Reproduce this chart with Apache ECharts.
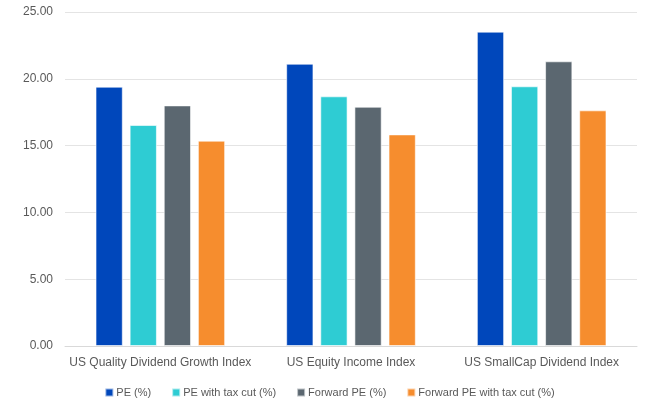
<!DOCTYPE html>
<html>
<head>
<meta charset="utf-8">
<script src="https://cdn.jsdelivr.net/npm/echarts@6/dist/echarts.min.js"></script>
<style>
    html, body { margin: 0; padding: 0; background: #fff; }
    #container { width: 659px; height: 403px; }
</style>
</head>
<body>
<div id="container"></div>
<script type="text/javascript">
    // chart data
    var categories = ['US Quality Dividend Growth Index', 'US Equity Income Index', 'US SmallCap Dividend Index'];
    var seriesNames = ['PE (%)', 'PE with tax cut (%)', 'Forward PE (%)', 'Forward PE with tax cut (%)'];
    var pe = [19.41, 21.13, 23.53];
    var peTaxCut = [16.54, 18.69, 19.44];
    var forwardPe = [18.01, 17.91, 21.31];
    var forwardPeTaxCut = [15.37, 15.84, 17.64];
    var colors = ['#0047BB', '#2ECCD3', '#5B6770', '#F68D2E'];

    var font = "'Liberation Sans', Arial, sans-serif";
    var values = [pe, peTaxCut, forwardPe, forwardPeTaxCut];
    var series = [];
    for (var i = 0; i < seriesNames.length; i++) {
        series.push({
            name: seriesNames[i],
            type: 'bar',
            data: values[i],
            barGap: '25%',
            barCategoryGap: '32%',
            itemStyle: {
                color: colors[i],
                borderColor: 'rgba(255,255,255,0.6)',
                borderWidth: 1
            }
        });
    }

    var myChart = echarts.init(document.getElementById('container'));
    var option = {
        animation: false,
        textStyle: { fontFamily: font },
        grid: { left: 65, right: 22, top: 12, bottom: 57 },
        legend: {
            bottom: 0,
            left: 'center',
            itemWidth: 8,
            itemHeight: 8,
            itemGap: 20,
            icon: 'rect',
            textStyle: { color: '#595959', fontSize: 11, fontFamily: font, padding: [0, 0, 0, -2] },
            data: seriesNames
        },
        xAxis: {
            type: 'category',
            data: categories,
            axisLine: { lineStyle: { color: '#D9D9D9' } },
            axisTick: { show: false },
            axisLabel: { color: '#595959', fontSize: 12, margin: 11, interval: 0, fontFamily: font }
        },
        yAxis: {
            type: 'value',
            min: 0,
            max: 25,
            interval: 5,
            axisLine: { show: false },
            axisTick: { show: false },
            splitLine: { lineStyle: { color: '#E4E4E4' } },
            axisLabel: {
                color: '#595959',
                fontSize: 12,
                margin: 12,
                fontFamily: font,
                formatter: function (v) { return v.toFixed(2); }
            }
        },
        series: series
    };
    myChart.setOption(option);
</script>
</body>
</html>
